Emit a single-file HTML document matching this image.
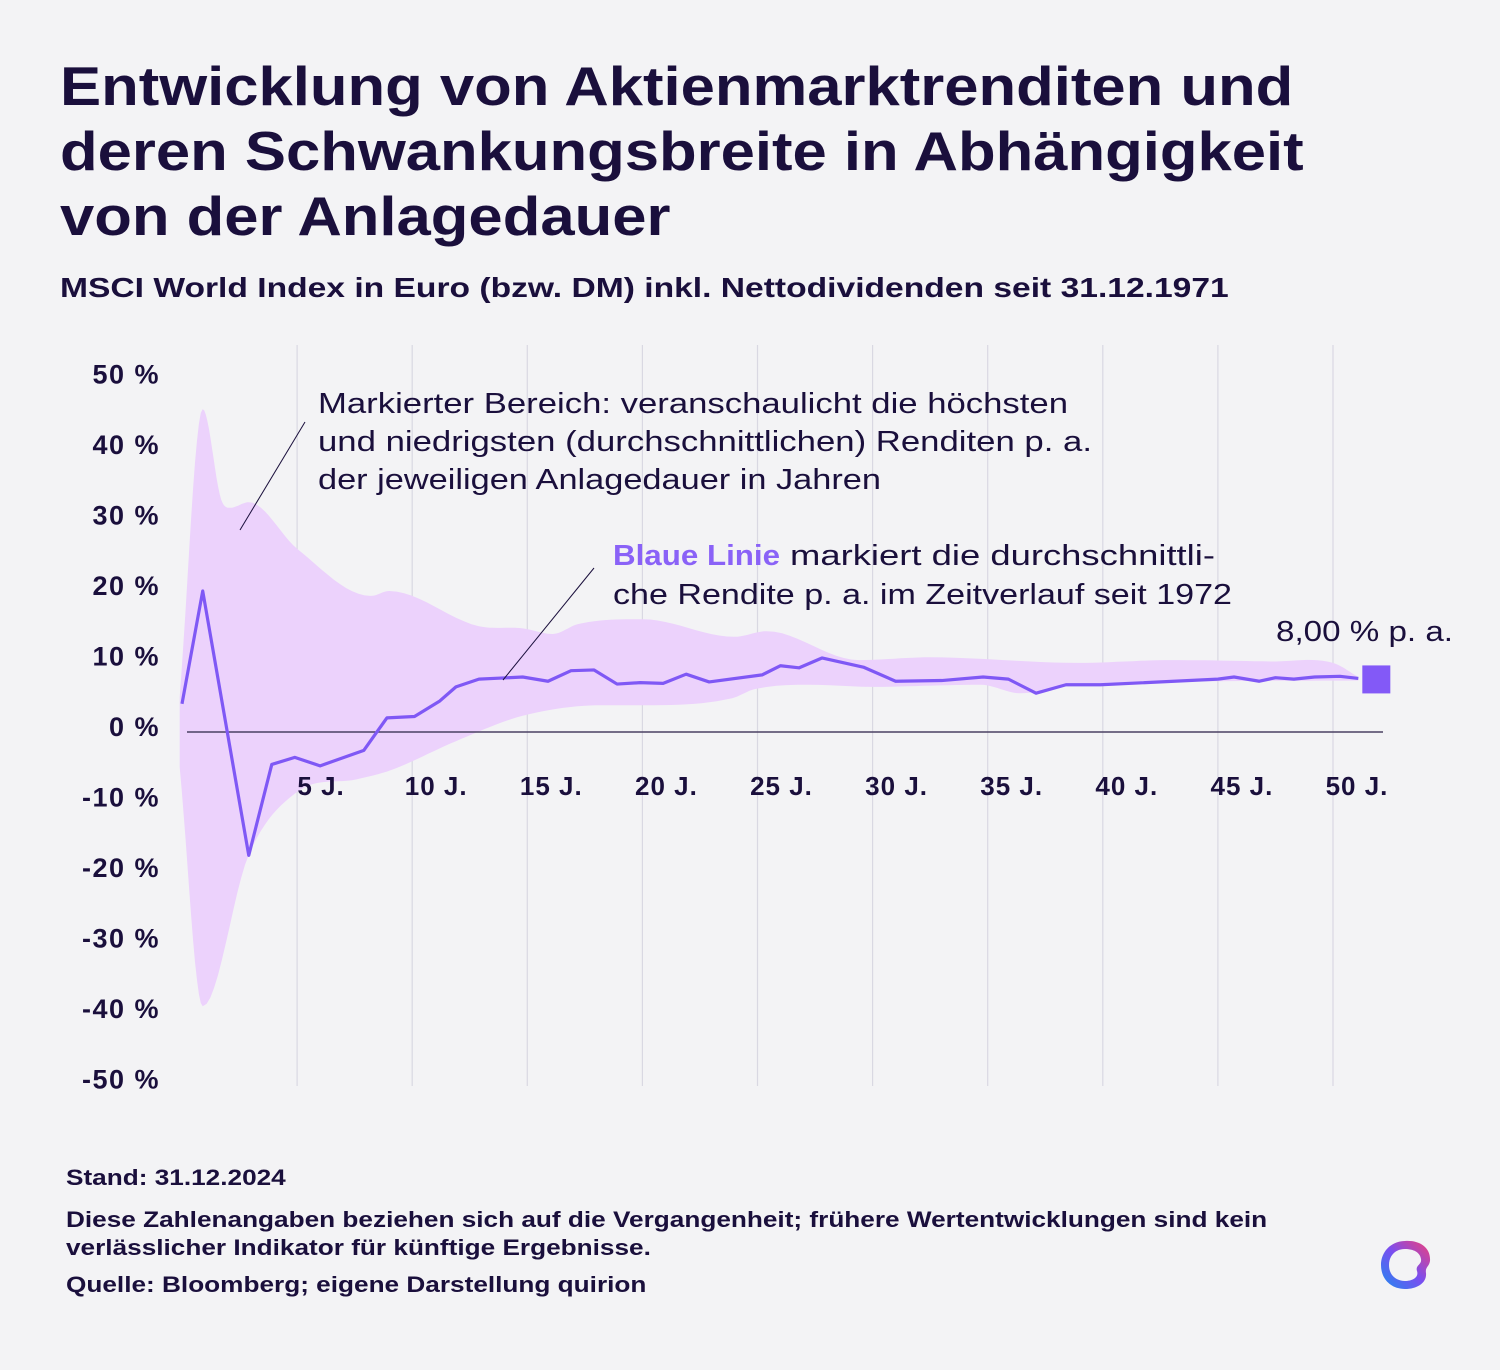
<!DOCTYPE html>
<html><head><meta charset="utf-8">
<style>
body{margin:0;background:#f3f3f5;}
#wrap{position:relative;width:1500px;height:1370px;overflow:hidden;background:#f3f3f5;font-family:"Liberation Sans",sans-serif;color:#1a0f3c;}
.t{position:absolute;white-space:nowrap;transform-origin:0 0;}
</style></head><body>
<div id="wrap">
<div class="t" style="left:60px;top:54px;font-size:55px;font-weight:bold;line-height:65px;transform:scaleX(1.12)">Entwicklung von Aktienmarktrenditen und<br>deren Schwankungsbreite in Abhängigkeit<br>von der Anlagedauer</div>
<div class="t" style="left:60px;top:272px;font-size:28px;font-weight:bold;transform:scaleX(1.2)">MSCI World Index in Euro (bzw. DM) inkl. Nettodividenden seit 31.12.1971</div>
<svg id="chart" width="1500" height="1370" style="position:absolute;left:0;top:0" xmlns="http://www.w3.org/2000/svg"></svg>
<div class="t" style="left:66px;top:1165px;font-size:22px;font-weight:bold;transform:scaleX(1.19)">Stand: 31.12.2024</div>
<div class="t" style="left:66px;top:1206px;font-size:22px;font-weight:bold;line-height:28px;transform:scaleX(1.19)">Diese Zahlenangaben beziehen sich auf die Vergangenheit; frühere Wertentwicklungen sind kein<br>verlässlicher Indikator für künftige Ergebnisse.</div>
<div class="t" style="left:66px;top:1272px;font-size:22px;font-weight:bold;transform:scaleX(1.19)">Quelle: Bloomberg; eigene Darstellung quirion</div>
<svg width="60" height="60" style="position:absolute;left:1375px;top:1235px" viewBox="0 0 60 60">
<defs><linearGradient id="lg" x1="0" y1="1" x2="1" y2="0"><stop offset="0" stop-color="#1e8bf0"/><stop offset="0.5" stop-color="#7a4ef0"/><stop offset="1" stop-color="#f0407a"/></linearGradient></defs>
<path d="M30 6 C44 5 56 12 55 26 C54 32 50 32 51 38 C52 48 42 54 30 54 C16 54 6 44 6 30 C6 16 17 6 30 6 Z M30 14 C20 14 14 21 14 30 C14 40 21 46 30 46 C38 46 44 42 42 36 C40 30 47 30 46 24 C45 17 38 14 30 14 Z" fill="url(#lg)" fill-rule="evenodd"/>
</svg>
</div>
<script>
const yTicks=[50,40,30,20,10,0,-10,-20,-30,-40,-50];
const xTicks=[5,10,15,20,25,30,35,40,45,50];
const lineYears=[0,0.9,2.9,3.9,4.9,6,7.9,8.9,10.1,11.2,11.9,12.9,14.8,15.9,16.9,17.9,18.9,19.9,20.9,21.9,22.9,25.2,26,26.8,27.8,29.6,31,33,34.8,35.9,37.1,38.4,39.9,45,45.7,46.8,47.5,48.3,49.2,50.3,51.1];
const lineValues=[4,20,-17.5,-4.6,-3.6,-4.8,-2.6,2,2.2,4.4,6.4,7.5,7.8,7.2,8.7,8.8,6.8,7,6.9,8.2,7.1,8.1,9.4,9.1,10.5,9.2,7.2,7.3,7.8,7.5,5.5,6.7,6.7,7.5,7.8,7.2,7.7,7.5,7.8,7.9,7.6];
const upperYears=[-0.1,0.9,1.7,2.1,2.9,5,8.2,9,12.9,14.8,16.1,17.2,20,24,25.4,29.4,32.5,38.9,43,47.3,50,51.1];
const upperValues=[5,45.8,33,31.8,32.6,26,19.3,20,15,14.7,13.9,15.3,16,13.5,14.3,10.2,10.6,9.8,10.2,10,9.8,7.8];
const lowerYears=[-0.1,0.9,2.9,5,7.6,9,11.9,14.8,18.3,19.9,23.9,24.9,30.45,34.7,36.4,38.9,45,51.1];
const lowerValues=[-5,-38.9,-17.4,-8.5,-6.7,-5.5,-1.3,2.3,3.8,3.8,4.8,6.1,6.4,6.7,5.5,6.7,7.2,7.3];
const endLabel="8,00 % p. a.";

const svg=document.getElementById('chart');
const NS='http://www.w3.org/2000/svg';
function x(yr){return 182+yr*23.02;}
function y(v){return 732-v*7.05;}
function mk(tag,attrs){const e=document.createElementNS(NS,tag);for(const k in attrs)e.setAttribute(k,attrs[k]);svg.appendChild(e);return e;}
function mono(xs,ys){
 const n=xs.length,d=[],m=[];
 for(let i=0;i<n-1;i++)d.push((ys[i+1]-ys[i])/(xs[i+1]-xs[i]));
 for(let i=0;i<n;i++){if(i==0)m.push(d[0]);else if(i==n-1)m.push(d[n-2]);else m.push(d[i-1]*d[i]<=0?0:(d[i-1]+d[i])/2);}
 const out=[];
 for(let i=0;i<n-1;i++){const h=xs[i+1]-xs[i];for(let s=0;s<12;s++){const t=s/12,t2=t*t,t3=t2*t;
  const v=(2*t3-3*t2+1)*ys[i]+(t3-2*t2+t)*h*m[i]+(-2*t3+3*t2)*ys[i+1]+(t3-t2)*h*m[i+1];
  out.push([x(xs[i]+t*h),y(v)]);}}
 out.push([x(xs[n-1]),y(ys[n-1])]);return out;}

xTicks.forEach(t=>{
const g=mk('line',{x1:x(t),x2:x(t),y1:345,y2:1086,stroke:'#d9d8e2','stroke-width':1.2});


});
const up=mono(upperYears,upperValues);
const lo=mono(lowerYears,lowerValues).reverse();
const band=mk('polygon',{points:up.concat(lo).map(p=>p[0].toFixed(1)+','+p[1].toFixed(1)).join(' '),fill:'#ecd2fc'});


xTicks.forEach(t=>{
const l=mk('text',{x:x(t)+24,y:795,'font-size':26,'font-weight':'bold','text-anchor':'middle',fill:'#1a0f3c','font-family':'Liberation Sans, sans-serif','letter-spacing':1});
l.textContent=t+' J.';


});
yTicks.forEach(t=>{
const l=mk('text',{x:160,y:y(t)+4,'font-size':27,'font-weight':'bold','text-anchor':'end',fill:'#1a0f3c','font-family':'Liberation Sans, sans-serif','letter-spacing':1.5});
l.textContent=t+' %';


});
const zl=mk('line',{x1:187,x2:1383,y1:y(0),y2:y(0),stroke:'#4a4163','stroke-width':1.5});


const ln=mk('polyline',{points:lineYears.map((a,i)=>x(a)+','+y(lineValues[i])).join(' '),fill:'none',stroke:'#7f58f5','stroke-width':3.2,'stroke-linejoin':'round'});


const lastV=lineValues[lineValues.length-1], lastX=x(lineYears[lineYears.length-1]);
const sq=mk('rect',{x:lastX+4,y:y(lastV)-13,width:28,height:28,fill:'#8359f7'});


const el=mk('text',{x:1276,y:641,'font-size':29,fill:'#1a0f3c','font-family':'Liberation Sans, sans-serif',textLength:177,lengthAdjust:'spacingAndGlyphs'});
el.textContent=endLabel;


const a1=mk('line',{x1:240,y1:530,x2:305,y2:422,stroke:'#1a0f3c','stroke-width':1});


const a2=mk('line',{x1:503,y1:680,x2:594,y2:568,stroke:'#1a0f3c','stroke-width':1});


const t1=mk('text',{x:318,y:413,'font-size':29,fill:'#1a0f3c','font-family':'Liberation Sans, sans-serif'});


[['Markierter Bereich: veranschaulicht die höchsten',750],['und niedrigsten (durchschnittlichen) Renditen p. a.',774],['der jeweiligen Anlagedauer in Jahren',563]].forEach((s,i)=>{const ts=document.createElementNS(NS,'tspan');ts.setAttribute('x',318);ts.setAttribute('y',413+i*38);ts.setAttribute('textLength',s[1]);ts.setAttribute('lengthAdjust','spacingAndGlyphs');ts.textContent=s[0];t1.appendChild(ts);});
const t2=mk('text',{x:613,y:565,'font-size':29,fill:'#1a0f3c','font-family':'Liberation Sans, sans-serif'});


t2.innerHTML='<tspan x="613" y="565" font-weight="bold" fill="#8a62f7" textLength="167" lengthAdjust="spacingAndGlyphs">Blaue Linie</tspan><tspan x="790" y="565" textLength="425" lengthAdjust="spacingAndGlyphs">markiert die durchschnittli-</tspan><tspan x="613" y="604" textLength="619" lengthAdjust="spacingAndGlyphs">che Rendite p. a. im Zeitverlauf seit 1972</tspan>';
</script>
</body></html>
